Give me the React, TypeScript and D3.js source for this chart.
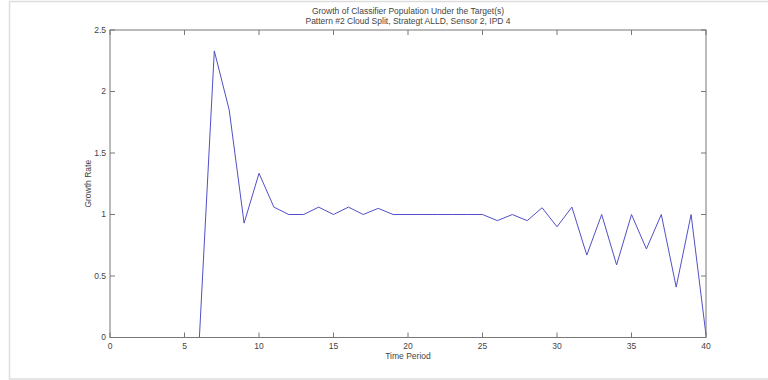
import React from 'react';
import * as d3 from 'd3';

// Time periods 6..40 and growth rate
const periods = [
  6, 7, 8, 9, 10, 11, 12, 13, 14, 15, 16, 17, 18, 19, 20, 21, 22, 23, 24, 25,
  26, 27, 28, 29, 30, 31, 32, 33, 34, 35, 36, 37, 38, 39, 40,
];
const growthRate = [
  0, 2.33, 1.85, 0.93, 1.335, 1.06, 1.0, 1.0, 1.06, 1.0, 1.06, 1.0, 1.05, 1.0, 1.0, 1.0, 1.0, 1.0, 1.0, 1.0,
  0.95, 1.0, 0.95, 1.055, 0.9, 1.06, 0.67, 1.0, 0.59, 1.0, 0.72, 1.0, 0.41, 1.0, 0.02,
];
const xTicks = [0, 5, 10, 15, 20, 25, 30, 35, 40];
const yTicks = [0, 0.5, 1, 1.5, 2, 2.5];

const titleLines = [
  'Growth of Classifier Population Under the Target(s)',
  'Pattern #2 Cloud Split, Strategt ALLD, Sensor 2, IPD 4',
];

const width = 768;
const height = 380;
const margin = { top: 30, right: 62, bottom: 42.5, left: 110 };

const App: React.FC = () => {
  const innerWidth = width - margin.left - margin.right;
  const innerHeight = height - margin.top - margin.bottom;

  const xScale = d3.scaleLinear().domain([0, 40]).range([0, innerWidth]);
  const yScale = d3.scaleLinear().domain([0, 2.5]).range([innerHeight, 0]);

  const line = d3
    .line<number>()
    .x((_, i) => xScale(periods[i]))
    .y(d => yScale(d));

  const axisColor = '#777';
  const textColor = '#444';
  const font = '"Liberation Sans", Arial, sans-serif';

  return (
    <svg
      width={width}
      height={height}
      style={{ position: 'absolute', left: 0, top: 0, background: '#fff' }}
      fontFamily={font}
    >
      {/* outer frame */}
      <rect x={9.5} y={1.5} width={770} height={377.5} fill="none" stroke="#ddd" strokeWidth={1.5} />

      {/* title */}
      {titleLines.map((t, i) => (
        <text
          key={t}
          x={margin.left + innerWidth / 2}
          y={14 + i * 10}
          textAnchor="middle"
          fontSize="8.5px"
          fill={textColor}
        >
          {t}
        </text>
      ))}

      <g transform={`translate(${margin.left}, ${margin.top})`}>
        {/* data line */}
        <path d={line(growthRate) || ''} fill="none" stroke="#5050c8" strokeWidth={1} />

        {/* box */}
        <rect x={0} y={0} width={innerWidth} height={innerHeight} fill="none" stroke={axisColor} strokeWidth={1} />

        {/* x ticks */}
        {xTicks.map(t => (
          <g key={`x-${t}`} transform={`translate(${xScale(t)}, 0)`}>
            <line y1={innerHeight} y2={innerHeight - 5} stroke={axisColor} />
            <line y1={0} y2={5} stroke={axisColor} />
            <text y={innerHeight + 11} textAnchor="middle" fontSize="8.5px" fill={textColor}>
              {t}
            </text>
          </g>
        ))}

        {/* y ticks */}
        {yTicks.map(t => (
          <g key={`y-${t}`} transform={`translate(0, ${yScale(t)})`}>
            <line x1={0} x2={5} stroke={axisColor} />
            <line x1={innerWidth} x2={innerWidth - 5} stroke={axisColor} />
            <text x={-4} dy=".32em" textAnchor="end" fontSize="8.5px" fill={textColor}>
              {t}
            </text>
          </g>
        ))}

        {/* axis labels */}
        <text x={innerWidth / 2} y={innerHeight + 21} textAnchor="middle" fontSize="8.5px" fill={textColor}>
          Time Period
        </text>
        <text
          transform="rotate(-90)"
          x={-innerHeight / 2}
          y={-19}
          textAnchor="middle"
          fontSize="8.5px"
          fill={textColor}
        >
          Growth Rate
        </text>
      </g>
    </svg>
  );
};

export default App;
